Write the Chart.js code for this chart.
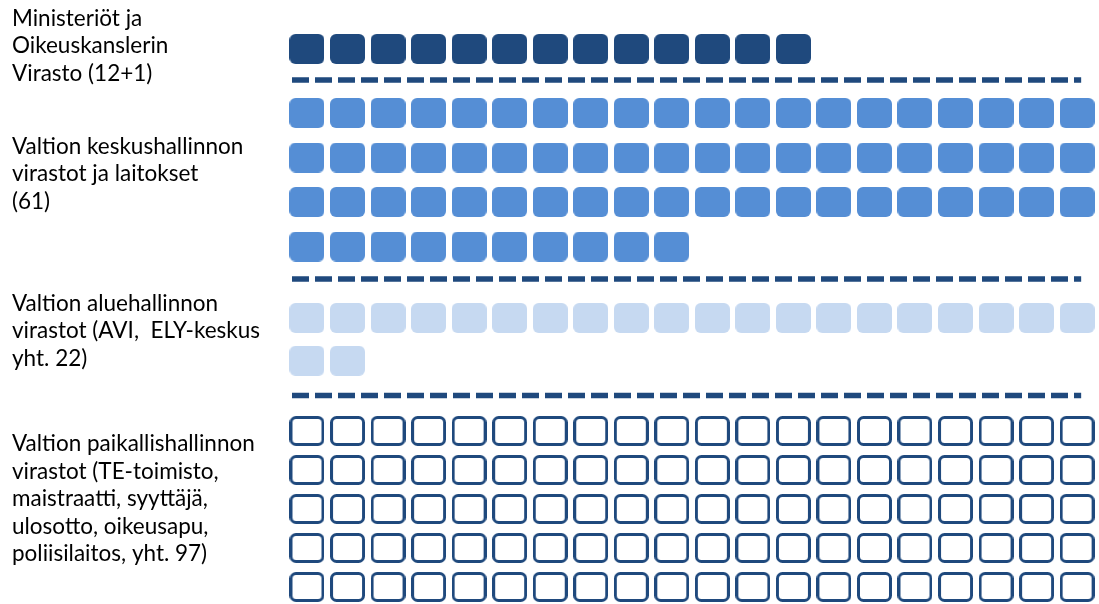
<!DOCTYPE html>
<html><head><meta charset="utf-8">
<script src="https://cdn.jsdelivr.net/npm/chart.js@4.4.1/dist/chart.umd.min.js"></script>
<style>html,body{margin:0;padding:0;background:#fff;overflow:hidden}</style>
</head><body>
<canvas id="c" width="1099" height="604"></canvas>
<script>
// ---- DATA ----
const categories = [
  ['Ministeriöt ja', 'Oikeuskanslerin', 'Virasto (12+1)'],
  ['Valtion keskushallinnon', 'virastot ja laitokset', '(61)'],
  ['Valtion aluehallinnon', 'virastot (AVI,  ELY-keskus', 'yht. 22)'],
  ['Valtion paikallishallinnon', 'virastot (TE-toimisto,', 'maistraatti, syyttäjä,', 'ulosotto, oikeusapu,', 'poliisilaitos, yht. 97)']
];
const unitCounts = [13, 70, 22, 100];   // squares drawn per group
const unitsPerRow = [20, 20, 20, 20];

// ---- LAYOUT / STYLE (not data) ----
const LAYOUT = {
  firstRowY: [49, 113, 318, 431],
  rowStep:   [44, 44.5, 42.7, 39],
  labelY:    [46, 174, 331, 499],
  separatorY: [80, 279, 395.5],
  sepFrom: -0.37, sepTo: 19.1,
  colMin: -0.666, colMax: 19.54
};
const STYLE = [
  {fill: '#1F497D'},
  {fill: '#558ED5'},
  {fill: '#C6D9F1'},
  {stroke: '#1F497D'}
];

function rr(g, x, y, w, h, r) {
  g.beginPath();
  g.moveTo(x + r, y);
  g.lineTo(x + w - r, y);
  g.arcTo(x + w, y, x + w, y + r, r);
  g.lineTo(x + w, y + h - r);
  g.arcTo(x + w, y + h, x + w - r, y + h, r);
  g.lineTo(x + r, y + h);
  g.arcTo(x, y + h, x, y + h - r, r);
  g.lineTo(x, y + r);
  g.arcTo(x, y, x + r, y, r);
  g.closePath();
}
function makeTile(s) {
  const w = 35, h = 30;
  const c = document.createElement('canvas');
  c.width = w; c.height = h;
  const g = c.getContext('2d');
  if (s.stroke) {
    rr(g, 1.5, 1.5, w - 3, h - 3, 5);
    g.fillStyle = '#fff'; g.fill();
    g.lineWidth = 3; g.strokeStyle = s.stroke; g.stroke();
  } else {
    rr(g, 0, 0, w, h, 6);
    g.fillStyle = s.fill; g.fill();
  }
  return c;
}
function unitPoints(gi) {
  const pts = [];
  for (let i = 0; i < unitCounts[gi]; i++) {
    const row = Math.floor(i / unitsPerRow[gi]);
    const col = i % unitsPerRow[gi];
    pts.push({x: col, y: LAYOUT.firstRowY[gi] + row * LAYOUT.rowStep[gi]});
  }
  return pts;
}

const datasets = [];
unitCounts.forEach((n, gi) => {
  datasets.push({
    data: unitPoints(gi),
    pointStyle: makeTile(STYLE[gi]),
    pointRadius: 15,
    showLine: false,
    clip: false
  });
});
LAYOUT.separatorY.forEach(y => {
  datasets.push({
    data: [{x: LAYOUT.sepFrom, y: y}, {x: LAYOUT.sepTo, y: y}],
    showLine: true,
    pointRadius: 0,
    borderColor: '#1F497D',
    borderWidth: 5.5,
    borderDash: [17, 6],
    borderCapStyle: 'butt',
    clip: false
  });
});

new Chart(document.getElementById('c'), {
  type: 'scatter',
  data: {datasets},
  options: {
    responsive: false,
    devicePixelRatio: 1,
    animation: false,
    events: [],
    layout: {autoPadding: false, padding: {left: 12, right: 0, top: 0, bottom: 0}},
    plugins: {legend: {display: false}, tooltip: {enabled: false}},
    scales: {
      x: {type: 'linear', min: LAYOUT.colMin, max: LAYOUT.colMax, display: false},
      y: {
        type: 'linear', min: 0, max: 604, reverse: true, position: 'left',
        grid: {display: false}, border: {display: false},
        afterBuildTicks: s => { s.ticks = LAYOUT.labelY.map(v => ({value: v})); },
        afterFit: s => {
          s.width = 268;
          s.paddingTop = 0; s.paddingBottom = 0; s.paddingLeft = 0; s.paddingRight = 0;
        },
        ticks: {
          autoSkip: false, padding: 0, crossAlign: 'far', color: '#000',
          font: {family: 'Lato, sans-serif', size: 22.5, lineHeight: 1.222},
          callback: (v, i) => categories[i]
        }
      }
    }
  }
});
</script>
</body></html>
